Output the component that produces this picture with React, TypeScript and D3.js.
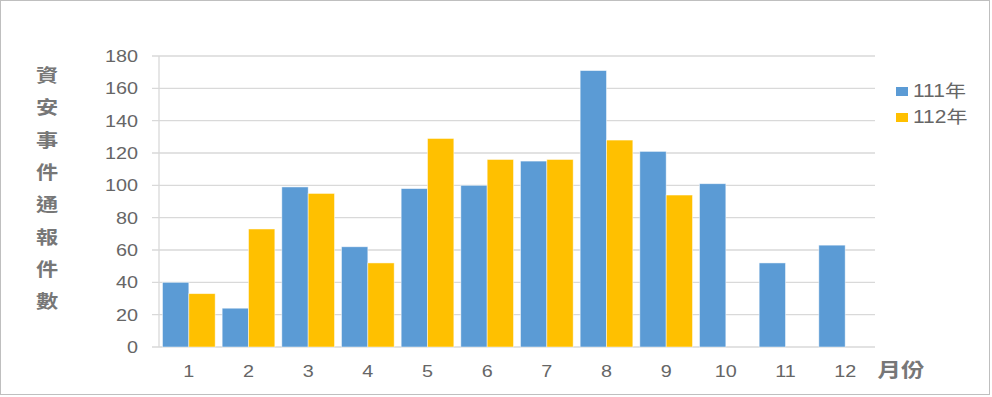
import React from "react";
import * as d3 from "d3";

const months = ["1", "2", "3", "4", "5", "6", "7", "8", "9", "10", "11", "12"];
const series111 = [40, 24, 99, 62, 98, 100, 115, 171, 121, 101, 52, 63];
const series112: (number | null)[] = [33, 73, 95, 52, 129, 116, 116, 128, 94, null, null, null];
const seriesNames = ["111年", "112年"];
const colors = ["#5B9BD5", "#FFC000"];
const yTicks = [0, 20, 40, 60, 80, 100, 120, 140, 160, 180];
const yTitle = "資安事件通報件數";
const xTitle = "月份";

const W = 992;
const H = 397;
const left = 159;
const right = 875;
const top = 56;
const bottom = 347;
const SX = 1.2;
const FONT = "'Liberation Sans', Arial, 'Noto Sans CJK TC', sans-serif";

function SText({ x, y, anchor = "middle", size, weight = 400, fill = "#595959", children }: any) {
  return (
    <text
      transform={`translate(${x},${y}) scale(${SX},1)`}
      textAnchor={anchor}
      fontSize={size}
      fontWeight={weight}
      fill={fill}
      fontFamily={FONT}
    >
      {children}
    </text>
  );
}

export default function App() {
  const x0 = d3.scaleBand<string>().domain(months).range([left, right]).paddingInner(0.117).paddingOuter(0.0585);
  const x1 = d3.scaleBand<number>().domain([0, 1]).range([0, x0.bandwidth()]);
  const y = d3.scaleLinear().domain([0, 180]).range([bottom, top]);
  const data = [series111, series112];

  return (
    <svg width={W} height={H} style={{ position: "fixed", left: 0, top: 0, background: "#fff" }}>
      <rect x={0.5} y={0.5} width={989} height={394} fill="#fff" stroke="#BFBFBF" strokeWidth={1} />
      {yTicks.map((t) => (
        <g key={t}>
          <line x1={152} x2={right} y1={y(t)} y2={y(t)} stroke="#D9D9D9" strokeWidth={1.3} />
          <SText x={138} y={y(t) + 6} anchor="end" size={16.5} fill="#666">{t}</SText>
        </g>
      ))}
      <line x1={left} x2={left} y1={top} y2={bottom} stroke="#D9D9D9" strokeWidth={1.3} />
      {data.map((s, si) =>
        s.map((v, i) =>
          v == null ? null : (
            <rect
              key={`${si}-${i}`}
              x={(x0(months[i]) as number) + (x1(si) as number)}
              y={y(v)}
              width={x1.bandwidth()}
              height={y(0) - y(v)}
              fill={colors[si]}
              stroke="#fff"
              strokeOpacity={0.6}
              strokeWidth={0.8}
            />
          )
        )
      )}
      {months.map((m) => (
        <SText key={m} x={(x0(m) as number) + x0.bandwidth() / 2} y={377} size={16.5} fill="#666">{m}</SText>
      ))}
      <SText x={901} y={377} size={19.5} weight={700} fill="#777">{xTitle}</SText>
      {yTitle.split("").map((c, i) => (
        <SText key={i} x={47} y={82 + i * 32.3} size={18.5} weight={700} fill="#777">{c}</SText>
      ))}
      {seriesNames.map((n, i) => (
        <g key={n}>
          <rect x={896} y={87 + i * 26} width={12} height={9} fill={colors[i]} />
          <SText x={913} y={97 + i * 26} anchor="start" size={17.5} fill="#666">{n}</SText>
        </g>
      ))}
    </svg>
  );
}
